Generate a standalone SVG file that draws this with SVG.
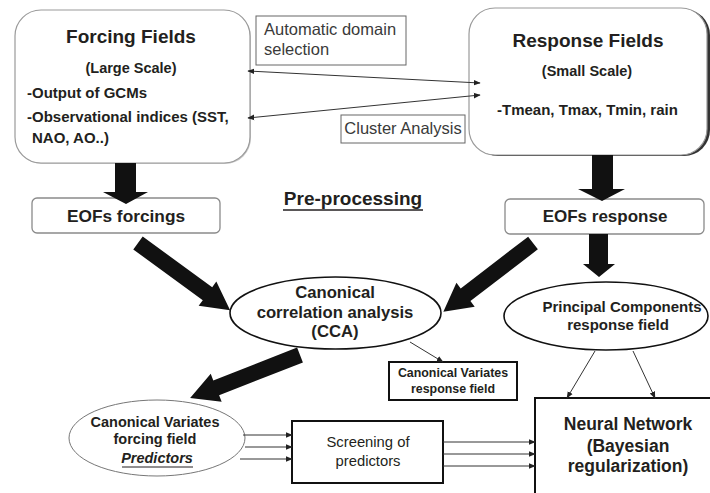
<svg xmlns="http://www.w3.org/2000/svg" width="710" height="493" viewBox="0 0 710 493">
  <style>
    text { font-family: "Liberation Sans", Arial, sans-serif; fill: #231f20; }
    .b { font-weight: bold; }
    .mid { text-anchor: middle; }
    .note { fill: #3a3a3a; font-size: 16.5px; }
    .field { fill: #fff; stroke: #9a9a9a; stroke-width: 1.2; }
    .eof { fill: #fff; stroke: #8a8a8a; stroke-width: 1.3; }
    .heavy { fill: #fff; stroke: #111; stroke-width: 2; }
    .thin { stroke: #333; stroke-width: 1; fill: none; }
    .big { fill: #111; }
  </style>
  <defs>
    <marker id="tip" viewBox="0 0 10 10" refX="9" refY="5" markerWidth="7" markerHeight="7" markerUnits="userSpaceOnUse" orient="auto-start-reverse">
      <path d="M0,1 L10,5 L0,9 Z" fill="#222"/>
    </marker>
  </defs>

  <rect width="710" height="493" fill="#fff"/>

  <!-- forcing fields -->
  <g id="forcing">
    <rect x="16" y="11" width="235" height="153" rx="26" fill="#c8c8c8"/>
    <rect x="15" y="10" width="235" height="153" rx="26" class="field"/>
    <text x="131" y="43" class="b mid" font-size="19">Forcing Fields</text>
    <text x="131" y="73" class="b mid" font-size="14.5">(Large Scale)</text>
    <text x="27" y="98" class="b" font-size="15">-Output of GCMs</text>
    <text x="27" y="122" class="b" font-size="15">-Observational indices (SST,</text>
    <text x="32" y="143" class="b" font-size="15">NAO, AO..)</text>
  </g>

  <!-- response fields, dark shade along the right edge -->
  <g id="response">
    <rect x="472" y="9" width="238" height="147" rx="26" fill="#333"/>
    <rect x="469" y="8" width="238" height="147" rx="26" class="field"/>
    <text x="588" y="47" class="b mid" font-size="19">Response Fields</text>
    <text x="587" y="76" class="b mid" font-size="14.5">(Small Scale)</text>
    <text x="497" y="115" class="b" font-size="15">-Tmean, Tmax, Tmin, rain</text>
  </g>

  <g id="domain-selection">
    <rect x="256" y="16" width="150" height="49" fill="#fff" stroke="#666" stroke-width="1"/>
    <text x="264" y="35" class="note" font-size="17">Automatic domain</text>
    <text x="264" y="55" class="note" font-size="17">selection</text>
  </g>

  <g id="cluster-analysis">
    <rect x="341" y="115" width="124" height="28" fill="#fff" stroke="#666" stroke-width="1"/>
    <text x="403" y="134" class="note mid">Cluster Analysis</text>
  </g>

  <g id="preprocessing-label">
    <text x="353" y="205" class="b mid" font-size="19">Pre-processing</text>
    <line x1="283" y1="210" x2="423" y2="210" stroke="#231f20" stroke-width="1.5"/>
  </g>

  <g id="eofs-forcings">
    <rect x="32" y="198" width="188" height="35" rx="5" class="eof"/>
    <text x="126" y="222" class="b mid" font-size="17.3">EOFs forcings</text>
  </g>

  <g id="eofs-response">
    <rect x="505" y="199" width="199" height="35" rx="5" class="eof"/>
    <text x="605" y="222" class="b mid" font-size="17">EOFs response</text>
  </g>

  <g id="cca">
    <ellipse cx="335.5" cy="313" rx="105.5" ry="36" fill="#fff" stroke="#111" stroke-width="1.6"/>
    <text x="335" y="298" class="b mid" font-size="16.7">Canonical</text>
    <text x="335" y="318" class="b mid" font-size="16.7">correlation analysis</text>
    <text x="335" y="337" class="b mid" font-size="16.7">(CCA)</text>
  </g>

  <g id="principal-components">
    <ellipse cx="606" cy="316" rx="102" ry="34" fill="#fff" stroke="#111" stroke-width="1.6"/>
    <text x="622" y="312" class="b mid" font-size="15">Principal Components</text>
    <text x="618" y="330" class="b mid" font-size="15">response field</text>
  </g>

  <g id="cv-response">
    <rect x="389" y="362" width="128" height="38" class="heavy"/>
    <text x="453" y="377" class="b mid" font-size="12.4">Canonical Variates</text>
    <text x="453" y="393" class="b mid" font-size="12.4">response field</text>
  </g>

  <g id="cv-forcing">
    <ellipse cx="157" cy="438" rx="88" ry="38" fill="#fff" stroke="#777" stroke-width="1"/>
    <text x="155" y="427" class="b mid" font-size="14.5">Canonical Variates</text>
    <text x="155" y="444" class="b mid" font-size="14.5">forcing field</text>
    <text x="157" y="463" class="b mid" font-size="14.5" font-style="italic">Predictors</text>
    <line x1="122" y1="467" x2="193" y2="467" stroke="#231f20" stroke-width="1"/>
  </g>

  <g id="screening">
    <rect x="292" y="421" width="151" height="62" class="heavy"/>
    <text x="368" y="447" class="mid" font-size="14.8">Screening of</text>
    <text x="368" y="466" class="mid" font-size="14.8">predictors</text>
  </g>

  <g id="neural-network">
    <rect x="535" y="398" width="180" height="100" class="heavy"/>
    <text x="628" y="430" class="b mid" font-size="17.5">Neural Network</text>
    <text x="628" y="452" class="b mid" font-size="17.5">(Bayesian</text>
    <text x="628" y="472" class="b mid" font-size="17.5">regularization)</text>
  </g>

  <g id="connectors">
    <!-- two-way links between the fields -->
    <line x1="248" y1="71" x2="480" y2="83" class="thin" marker-start="url(#tip)" marker-end="url(#tip)"/>
    <line x1="248" y1="118" x2="480" y2="95" class="thin" marker-start="url(#tip)" marker-end="url(#tip)"/>

    <!-- heavy vertical arrows -->
    <path class="big" d="M115,163 L136,163 L136,192 L148,192 L126,204 L103,192 L115,192 Z"/>
    <path class="big" d="M592,155 L613,155 L613,189 L625,189 L602,201 L578,189 L592,189 Z"/>
    <path class="big" d="M589,234 L608,234 L608,264 L615,264 L599,277 L583,264 L589,264 Z"/>

    <!-- heavy diagonal arrows -->
    <path class="big" transform="translate(138,243) rotate(36.1)" d="M0,-8 L86,-8 L86,-15 L114,0 L86,15 L86,8 L0,8 Z"/>
    <path class="big" transform="translate(533,243) rotate(142.5)" d="M0,-8 L85,-8 L85,-15 L113,0 L85,15 L85,8 L0,8 Z"/>
    <path class="big" transform="translate(300,355) rotate(158.6)" d="M0,-8 L90,-8 L90,-15 L118,0 L90,15 L90,8 L0,8 Z"/>

    <!-- thin arrows -->
    <line x1="410" y1="342" x2="443" y2="362" class="thin" marker-end="url(#tip)"/>
    <line x1="595" y1="351" x2="567" y2="398" class="thin" marker-end="url(#tip)"/>
    <line x1="633" y1="351" x2="655" y2="398" class="thin" marker-end="url(#tip)"/>

    <line x1="243" y1="435" x2="292" y2="435" class="thin" marker-end="url(#tip)"/>
    <line x1="245" y1="447" x2="292" y2="447" class="thin" marker-end="url(#tip)"/>
    <line x1="240" y1="459" x2="292" y2="459" class="thin" marker-end="url(#tip)"/>

    <line x1="443" y1="442" x2="535" y2="442" class="thin" marker-end="url(#tip)"/>
    <line x1="443" y1="454" x2="535" y2="454" class="thin" marker-end="url(#tip)"/>
    <line x1="443" y1="466" x2="535" y2="466" class="thin" marker-end="url(#tip)"/>
  </g>
</svg>
